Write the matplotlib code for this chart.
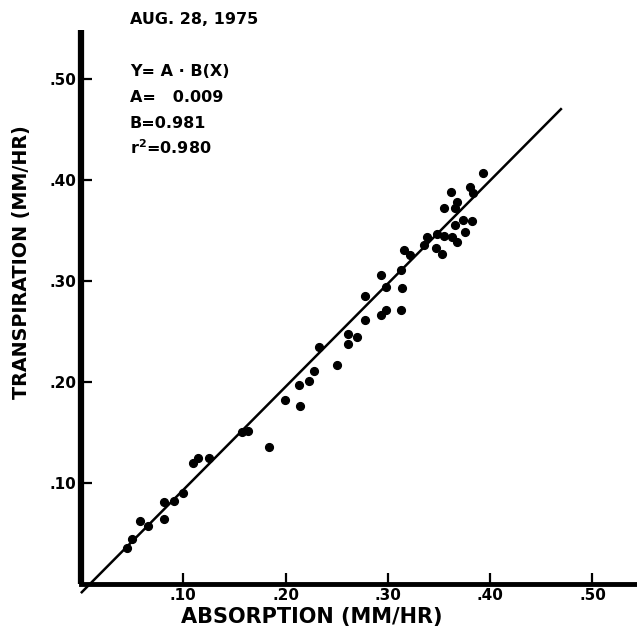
import matplotlib
matplotlib.use("Agg")
import matplotlib.pyplot as plt

# Data (absorption vs transpiration, MM/HR)
absorption = [0.045, 0.050, 0.058, 0.066, 0.081, 0.081, 0.091, 0.100, 0.110, 0.114,
              0.125, 0.157, 0.163, 0.184, 0.199, 0.214, 0.213, 0.223, 0.228, 0.233,
              0.250, 0.261, 0.261, 0.270, 0.278, 0.293, 0.298, 0.313, 0.278, 0.293,
              0.298, 0.314, 0.313, 0.316, 0.322, 0.335, 0.338, 0.347, 0.348, 0.353,
              0.355, 0.363, 0.368, 0.366, 0.375, 0.373, 0.382, 0.355, 0.366, 0.368,
              0.362, 0.380, 0.383, 0.393]
transpiration = [0.036, 0.045, 0.062, 0.057, 0.081, 0.064, 0.082, 0.090, 0.120, 0.125,
                 0.125, 0.150, 0.151, 0.136, 0.182, 0.176, 0.197, 0.201, 0.211, 0.235,
                 0.217, 0.248, 0.238, 0.245, 0.261, 0.266, 0.271, 0.271, 0.285, 0.306,
                 0.294, 0.293, 0.311, 0.331, 0.326, 0.336, 0.344, 0.333, 0.347, 0.327,
                 0.345, 0.344, 0.339, 0.355, 0.348, 0.360, 0.359, 0.372, 0.372, 0.378,
                 0.388, 0.393, 0.387, 0.407]

# Regression line endpoints as drawn
line_x = [0.0, 0.470]
line_y = [-0.009, 0.471]

tick_vals = [0.10, 0.20, 0.30, 0.40, 0.50]
tick_labels = [".10", ".20", ".30", ".40", ".50"]

title_text = "AUG. 28, 1975"
eq_lines = ["Y= A \u00b7 B(X)", "A=   0.009", "B=0.981", "r$^{\\mathbf{2}}$=0.980"]

plt.rcParams['font.family'] = ['DejaVu Sans']
fig = plt.figure(figsize=(6.37, 6.35), dpi=100)
ax = fig.add_axes([0.127, 0.0803, 0.873, 0.8725])
ax.set_xlim(0, 0.5435)
ax.set_ylim(0, 0.5485)

ax.plot(line_x, line_y, color="black", lw=1.8, clip_on=False, solid_capstyle="butt")
ax.plot(absorption, transpiration, "o", color="black", markersize=5.6, clip_on=False)

for s in ["top", "right"]:
    ax.spines[s].set_visible(False)
ax.spines["left"].set_linewidth(4.5)
ax.spines["bottom"].set_linewidth(3.5)
ax.spines["left"].set_capstyle("butt")

ax.set_xticks(tick_vals)
ax.set_xticklabels(tick_labels, fontweight="bold", fontsize=11)
ax.set_yticks(tick_vals)
ax.set_yticklabels(tick_labels, fontweight="bold", fontsize=11)
ax.tick_params(axis="x", direction="in", length=8, width=1.6, pad=3)
ax.tick_params(axis="y", direction="in", length=8, width=1.6, pad=3)

ax.set_xlabel("ABSORPTION (MM/HR)", fontweight="bold", fontsize=15, va="center")
ax.xaxis.set_label_coords(0.415, -0.0596)
ax.set_ylabel("TRANSPIRATION (MM/HR)", fontweight="bold", fontsize=13.8, va="center")
ax.yaxis.set_label_coords(-0.106, 0.581)

fig.text(0.204, 1 - 20 / 635, title_text, fontweight="bold", fontsize=11.5, va="center")
ys = [72, 98, 123, 148]
for t, yy in zip(eq_lines, ys):
    fig.text(0.204, 1 - yy / 635, t, fontweight="bold", fontsize=11.5, va="center")

fig.savefig("out.png", dpi=100)
